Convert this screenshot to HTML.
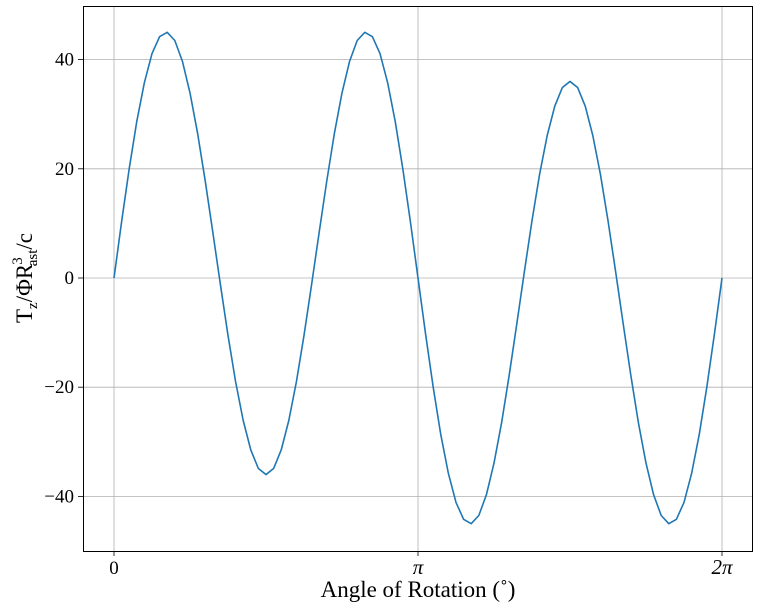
<!DOCTYPE html>
<html><head><meta charset="utf-8"><style>
body{margin:0;background:#fff;width:759px;height:611px;overflow:hidden}
svg text{font-family:"Liberation Serif","DejaVu Serif",serif;fill:#000}
</style></head><body>
<svg width="759" height="611" xmlns="http://www.w3.org/2000/svg">
<g id="grid"></g>
<polyline id="line" fill="none" stroke="#1f77b4" stroke-width="1.6" stroke-linejoin="round"/>
<rect x="83.5" y="6.5" width="669" height="545" fill="none" stroke="#000" stroke-width="1"/>
<g id="ticks"></g>
<text x="418" y="597" font-size="23" text-anchor="middle">Angle of Rotation (˚)</text>
<text transform="translate(32,278) rotate(-90)" font-size="23" text-anchor="middle">T<tspan font-size="15" dy="5">z</tspan><tspan dy="-5">/ΦR</tspan><tspan font-size="15" dy="-10" dx="-1">3</tspan><tspan font-size="15" dy="15" dx="-9">ast</tspan><tspan dy="-5">/c</tspan></text>
</svg>
<script>
const yValues = [0,10.3,20.0,28.7,35.8,41.1,44.2,45.0,43.5,39.7,33.9,26.5,17.8,8.4,-1.2,-10.5,-19.0,-26.1,-31.5,-34.9,-36,-34.9,-31.5,-26.1,-19.0,-10.5,-1.2,8.4,17.8,26.5,33.9,39.7,43.5,45.0,44.2,41.1,35.8,28.7,20.0,10.3,0,
-10.3,-20.0,-28.7,-35.8,-41.1,-44.2,-45.0,-43.5,-39.7,-33.9,-26.5,-17.8,-8.4,1.2,10.5,19.0,26.1,31.5,34.9,36,34.9,31.5,26.1,19.0,10.5,1.2,-8.4,-17.8,-26.5,-33.9,-39.7,-43.5,-45.0,-44.2,-41.1,-35.8,-28.7,-20.0,-10.3,0];
const xStep = 0.025; // in units of π
const yTicks = [40,20,0,-20,-40];
const xTicks = [0,1,2];
const xTickLabels = ["0","π","2π"];
const NS="http://www.w3.org/2000/svg";
function xs(t){return 114+t*304;}
function ys(v){return 278-v*5.46;}
const grid=document.getElementById('grid'), ticks=document.getElementById('ticks');
function mk(tag,attrs,parent){const e=document.createElementNS(NS,tag);for(const k in attrs)e.setAttribute(k,attrs[k]);parent.appendChild(e);return e;}
yTicks.forEach(v=>{
  const y=ys(v);
  const g=mk('line',{x1:83,x2:752,y1:y,y2:y,stroke:'#b0b0b0','stroke-width':0.8},grid);
  
  
  const t=mk('line',{x1:78,x2:83,y1:y,y2:y,stroke:'#000','stroke-width':0.8},ticks);
  
  
  const l=mk('text',{x:74,y:y+6,'font-size':19,'text-anchor':'end'},ticks);
  l.textContent=(v<0?'−':'')+Math.abs(v);
  
  
});
xTicks.forEach((v,i)=>{
  const x=xs(v);
  const g=mk('line',{x1:x,x2:x,y1:6,y2:551,stroke:'#b0b0b0','stroke-width':0.8},grid);
  
  
  const t=mk('line',{x1:x,x2:x,y1:551,y2:556,stroke:'#000','stroke-width':0.8},ticks);
  
  
  const l=mk('text',{x:x,y:574,'font-size':i>0?21:19,'text-anchor':'middle','font-style':i>0?'italic':'normal'},ticks);
  l.textContent=xTickLabels[i];
  
  
});
document.getElementById('line').setAttribute('points',yValues.map((v,i)=>xs(i*xStep)+','+ys(v)).join(' '));
</script>
</body></html>
